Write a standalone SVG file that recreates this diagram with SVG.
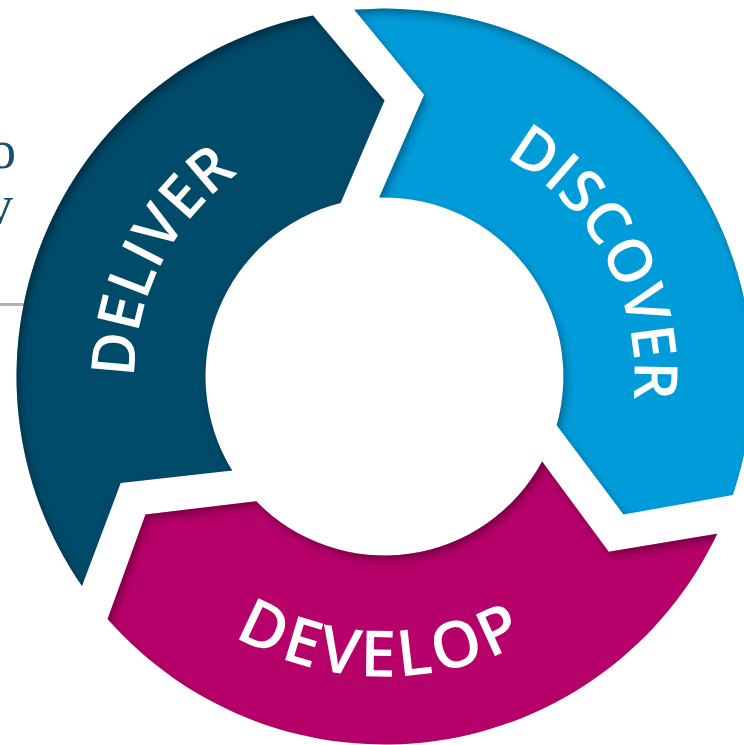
<svg xmlns="http://www.w3.org/2000/svg" xmlns:xlink="http://www.w3.org/1999/xlink" width="744" height="745" viewBox="0 0 744 745">
<defs>
<style>
.lbl{fill:#ffffff;font-family:"Open Sans","Liberation Sans",sans-serif;font-weight:600;font-size:60px}
.side{fill:#1a4e6c;font-family:"Liberation Serif","Times New Roman",serif;font-size:54px}
</style>
<filter id="inset" x="-10%" y="-10%" width="120%" height="120%">
<feOffset in="SourceAlpha" dx="3" dy="5" result="off"/>
<feGaussianBlur in="off" stdDeviation="4" result="blur"/>
<feComposite in="SourceAlpha" in2="blur" operator="out" result="edge"/>
<feFlood flood-color="#000000" flood-opacity="0.6"/>
<feComposite in2="edge" operator="in" result="shadow"/>
<feMerge><feMergeNode in="SourceGraphic"/><feMergeNode in="shadow"/></feMerge>
</filter>
<path id="pDeliver" d="M 174.8 512.7 A 250 250 0 0 1 371.4 126.8"/>
<path id="pDiscover" d="M 393.2 126.7 A 250 250 0 0 1 596.5 509.0"/>
<path id="pDevelop" d="M 120.3 518.7 A 300 300 0 0 0 639.7 534.2"/>
</defs>
<rect width="744" height="745" fill="#ffffff"/>
<g id="side-text">
<line x1="0" y1="304.5" x2="40" y2="304.5" stroke="#b3b3ab" stroke-width="3"/>
<text class="side" x="16" y="168" text-anchor="end">o</text>
<text class="side" x="13" y="223" text-anchor="end">v</text>
</g>
<g id="connectors"/>
<g id="deliver">
<path filter="url(#inset)" fill="#024b6a" d="M 82.0 586.0 L 120.7 483.1 L 232.2 470.6 A 179 179 0 0 1 340.6 203.0 L 384.5 100.5 L 313.0 15.5 A 368 368 0 0 0 82.0 586.0 Z"/>
<text class="lbl"><textPath xlink:href="#pDeliver" startOffset="50%" text-anchor="middle">DELIVER</textPath></text>
</g>
<g id="discover">
<path filter="url(#inset)" fill="#019bd9" d="M 354.3 9.8 L 424.1 94.8 L 379.2 197.6 A 179 179 0 0 1 556.7 425.2 L 623.5 514.5 L 732.8 495.1 A 368 368 0 0 0 354.3 9.8 Z"/>
<text class="lbl"><textPath xlink:href="#pDiscover" startOffset="50%" text-anchor="middle">DISCOVER</textPath></text>
</g>
<g id="develop">
<path filter="url(#inset)" fill="#b6006a" d="M 717.2 533.8 L 608.7 551.7 L 542.1 461.4 A 179 179 0 0 1 256.2 501.3 L 145.5 514.5 L 107.6 618.9 A 368 368 0 0 0 717.2 533.8 Z"/>
<text class="lbl" style="font-size:64px;letter-spacing:3.5px"><textPath xlink:href="#pDevelop" startOffset="50.8%" text-anchor="middle">DEVELOP</textPath></text>
</g>
</svg>
